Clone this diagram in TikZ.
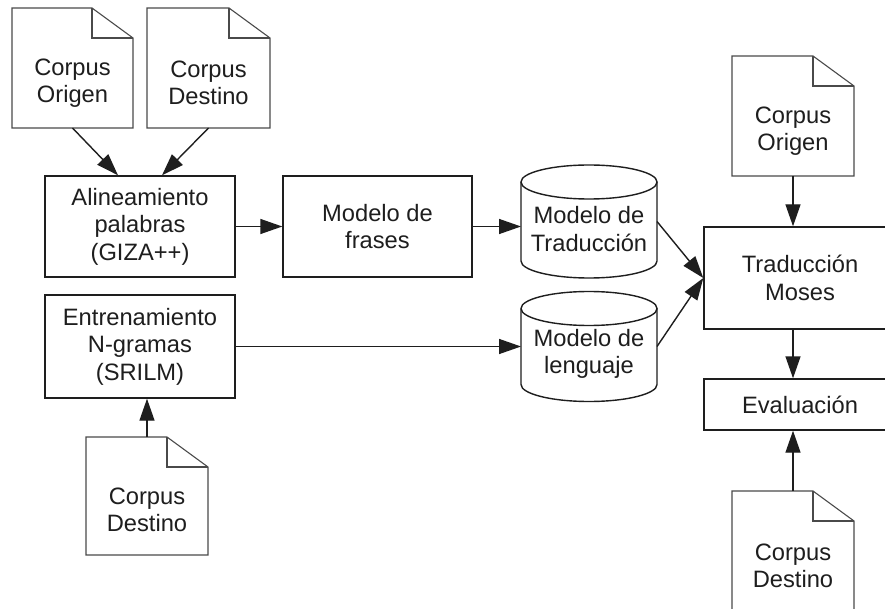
\documentclass[tikz,border=0pt]{standalone}
\usepackage{fontspec}
\setmainfont{Liberation Sans}
\usetikzlibrary{arrows.meta}

\definecolor{ink}{HTML}{1E1E1E}
\definecolor{paperline}{HTML}{4A4A4A}

\tikzset{
  txt/.style={font=\fontsize{23.7}{27.5}\selectfont, text=ink, align=center, inner sep=0pt},
  procbox/.style={txt, draw=ink, line width=1.4pt, rectangle, inner sep=0pt},
  frame/.style={inner sep=0pt, outer sep=0pt, draw=none, rectangle},
  docline/.style={draw=paperline, line width=1.1pt, line join=miter},
  cylline/.style={draw=ink, line width=1.4pt},
  flow/.style={draw=ink, line width=1.4pt, -{Triangle[length=22pt,width=15pt]}},
}

% folded-corner page outline around a frame node
\newcommand\docoutline[1]{%
  \draw[docline] (#1.north west) -- ([xshift=-41pt]#1.north east)
    -- ([yshift=-30pt]#1.north east) -- (#1.south east) -- (#1.south west) -- cycle;
  \draw[docline] ([xshift=-41pt]#1.north east) |- ([yshift=-30pt]#1.north east);}

% database cylinder around a frame node
\newcommand\cyloutline[1]{%
  \draw[cylline] ([yshift=-17pt]#1.north west) -- ([yshift=17pt]#1.south west)
    arc[start angle=180, end angle=360, x radius=68pt, y radius=17pt]
    -- ([yshift=-17pt]#1.north east);
  \draw[cylline] ([yshift=-17pt]#1.north) ellipse[x radius=68pt, y radius=17pt];}

\begin{document}
\begin{tikzpicture}[x=1pt, y=-1pt]
\useasboundingbox (0,0) rectangle (885,609);
\clip (0,0) rectangle (885,609);
\fill[white] (0,0) rectangle (885,609);

% documents
\node[frame, minimum width=121pt, minimum height=120pt] (d1) at (72.5,68) {};
\node[frame, minimum width=123pt, minimum height=120pt] (d2) at (208.5,68) {};
\node[frame, minimum width=122pt, minimum height=118pt] (d3) at (147,496) {};
\node[frame, minimum width=122pt, minimum height=120pt] (d4) at (793,116) {};
\node[frame, minimum width=122pt, minimum height=120pt] (d5) at (793,551) {};
\docoutline{d1}
\docoutline{d2}
\docoutline{d3}
\docoutline{d4}
\docoutline{d5}
\node[txt] (d1t) at ([yshift=-15pt]d1.center) {Corpus\\Origen};
\node[txt] (d2t) at ([yshift=-15pt]d2.center) {Corpus\\Destino};
\node[txt] (d3t) at ([yshift=-14pt]d3.center) {Corpus\\Destino};
\node[txt] (d4t) at ([yshift=-15pt]d4.center) {Corpus\\Origen};
\node[txt] (d5t) at ([yshift=-15pt]d5.center) {Corpus\\Destino};

% processing steps
\node[procbox, minimum width=190pt, minimum height=101pt] (align) at (140,226.5)
  {Alineamiento\\palabras\\(GIZA++)};
\node[procbox, minimum width=189pt, minimum height=101pt] (frases) at (377.5,226.5)
  {Modelo de\\frases};
\node[procbox, minimum width=190pt, minimum height=103pt] (train) at (140,346.5)
  {Entrenamiento\\N-gramas\\(SRILM)};
\node[procbox, minimum width=192pt, minimum height=102pt] (moses) at (800,278)
  {Traducción\\Moses};
\node[procbox, minimum width=192pt, minimum height=51pt] (eval) at (800,404.5)
  {Evaluación};

% model stores
\node[frame, minimum width=136pt, minimum height=113pt] (cyl1) at (589,221.5) {};
\node[frame, minimum width=136pt, minimum height=110pt] (cyl2) at (589,346.5) {};
\cyloutline{cyl1}
\cyloutline{cyl2}
\node[txt] (cyl1t) at ([yshift=-7.5pt]cyl1.center) {Modelo de\\Traducción};
\node[txt] (cyl2t) at ([yshift=-7.5pt]cyl2.center) {Modelo de\\lenguaje};

% connectors
\draw[flow] (d1.south) -- ([xshift=-22pt]align.north);
\draw[flow] (d2.south) -- ([xshift=22pt]align.north);
\draw[flow] (align.east) -- (frases.west);
\draw[flow] (frases.east) -- (frases.east -| cyl1.west);
\draw[flow] (train.east) -- (cyl2.west);
\draw[flow] (d3.north) -- (d3.north |- train.south);
\draw[flow] (cyl1.east) -- (moses.west);
\draw[flow] (cyl2.east) -- (moses.west);
\draw[flow] (d4.south) -- (d4.south |- moses.north);
\draw[flow] (moses.south -| d4.south) -- (eval.north -| d4.south);
\draw[flow] (d5.north) -- (d5.north |- eval.south);
\end{tikzpicture}
\end{document}
